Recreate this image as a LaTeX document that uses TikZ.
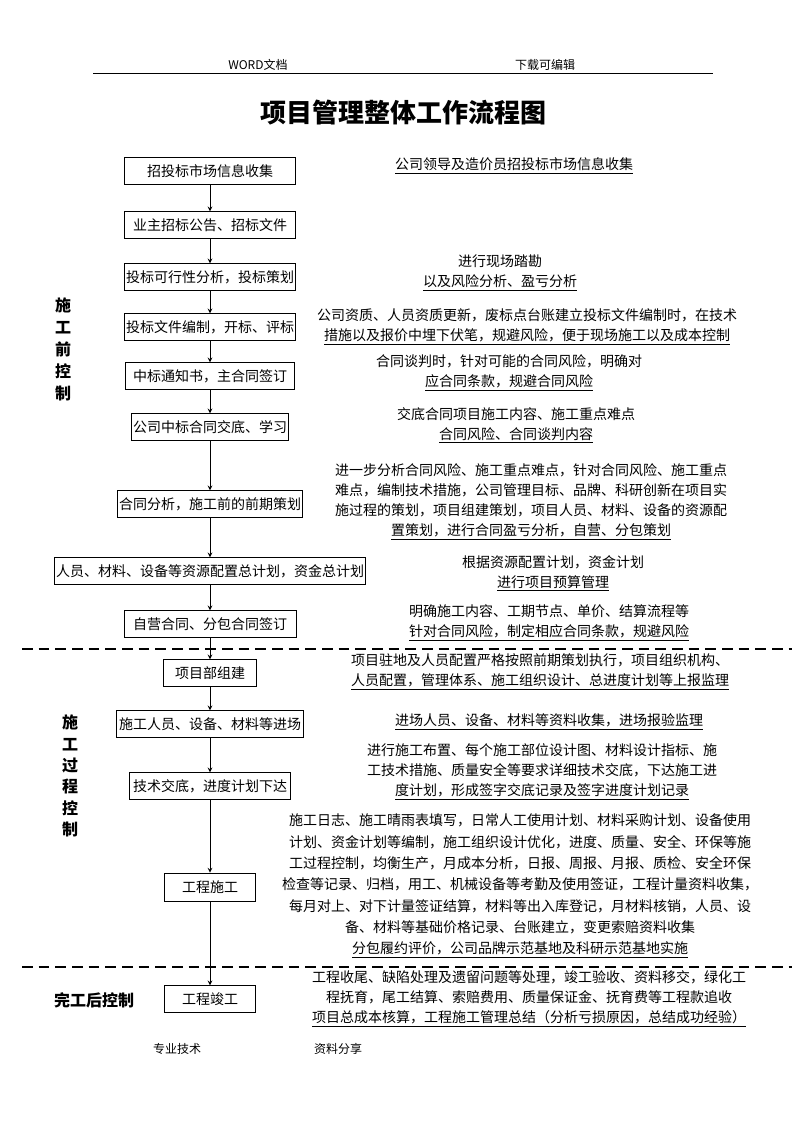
\documentclass[tikz,border=0pt]{standalone}
\usepackage{fontspec}
\newfontfamily\cjk{Noto Sans CJK SC}
\begin{document}
\begin{tikzpicture}[x=0.75pt,y=-0.75pt,>=stealth,
  every node/.style={font=\cjk\fontsize{10.5}{15}\selectfont},
  box/.style={draw,line width=0.6pt,minimum height=20pt,inner xsep=1pt,inner ysep=0pt},
  note/.style={align=center},
  side/.style={font=\cjk\bfseries\fontsize{12}{16.5}\selectfont,align=center},
  small/.style={font=\cjk\fontsize{9}{11}\selectfont},
  cut/.style={line width=1.4pt,dash pattern=on 8pt off 4.5pt}]
 \useasboundingbox (0,0) rectangle (794,1123);
 \node[small] (head1) at (258,65) {WORD文档};
 \node[small] (head2) at (545,65) {下载可编辑};
 \draw[line width=0.6pt] (93,73) -- (713,73);
 \node[font=\cjk\bfseries\fontsize{19.5}{22}\selectfont] (title) at (403,113) {项目管理整体工作流程图};
 % flow column
 \node[box,minimum width=128pt] (b1) at (210,171) {招投标市场信息收集};
 \node[box,minimum width=128pt] (b2) at (210,225) {业主招标公告、招标文件};
 \node[box,minimum width=127pt] (b3) at (210,277) {投标可行性分析，投标策划};
 \node[box,minimum width=127pt] (b4) at (210,327) {投标文件编制，开标、评标};
 \node[box,minimum width=127pt] (b5) at (210,376) {中标通知书，主合同签订};
 \node[box,minimum width=114pt] (b6) at (210,427) {公司中标合同交底、学习};
 \node[box,minimum width=137pt] (b7) at (210,504) {合同分析，施工前的前期策划};
 \node[box,minimum width=229pt] (b8) at (210,571) {人员、材料、设备等资源配置总计划，资金总计划};
 \node[box,minimum width=129pt] (b9) at (210,624) {自营合同、分包合同签订};
 \node[box,minimum width=70pt] (b10) at (210,673) {项目部组建};
 \node[box,minimum width=140pt] (b11) at (210,724) {施工人员、设备、材料等进场};
 \node[box,minimum width=121pt] (b12) at (210,786) {技术交底，进度计划下达};
 \node[box,minimum width=68pt,minimum height=21pt] (b13) at (210,887) {工程施工};
 \node[box,minimum width=68pt] (b14) at (210,999) {工程竣工};
 \foreach \a/\b in {b1/b2,b2/b3,b3/b4,b4/b5,b5/b6,b6/b7,b7/b8,b8/b9,b9/b10,b10/b11,b11/b12,b12/b13,b13/b14}
  \draw[line width=0.6pt,->] (\a) -- (\b);
 % phase lines and labels
 \draw[cut] (22,649) -- (792,649);
 \draw[cut] (22,967) -- (792,967);
 \node[side] (pre) at (63,349) {施\\工\\前\\控\\制};
 \node[side,font=\cjk\bfseries\fontsize{12}{16}\selectfont] (mid) at (70,776) {施\\工\\过\\程\\控\\制};
 \node[side] (post) at (94,1000) {完工后控制};
 % notes
 \node[note] (t1) at (514,166) {\underline{公司领导及造价员招投标市场信息收集}};
 \node[note] (t2) at (500,273) {进行现场踏勘\\\underline{以及风险分析、盈亏分析}};
 \node[note] (t3) at (527,327) {公司资质、人员资质更新，废标点台账建立投标文件编制时，在技术\\\underline{措施以及报价中埋下伏笔，规避风险，便于现场施工以及成本控制}};
 \node[note] (t4) at (509,373) {合同谈判时，针对可能的合同风险，明确对\\\underline{应合同条款，规避合同风险}};
 \node[note] (t5) at (516,425) {交底合同项目施工内容、施工重点难点\\\underline{合同风险、合同谈判内容}};
 \node[note] (t6) at (531,502) {进一步分析合同风险、施工重点难点，针对合同风险、施工重点\\难点，编制技术措施，公司管理目标、品牌、科研创新在项目实\\施过程的策划，项目组建策划，项目人员、材料、设备的资源配\\\underline{置策划，进行合同盈亏分析，自营、分包策划}};
 \node[note] (t7) at (553,573) {根据资源配置计划，资金计划\\\underline{进行项目预算管理}};
 \node[note] (t8) at (549,623) {明确施工内容、工期节点、单价、结算流程等\\\underline{针对合同风险，制定相应合同条款，规避风险}};
 \node[note] (t9) at (540,672) {项目驻地及人员配置严格按照前期策划执行，项目组织机构、\\\underline{人员配置，管理体系、施工组织设计、总进度计划等上报监理}};
 \node[note] (t10) at (549,722) {\underline{进场人员、设备、材料等资料收集，进场报验监理}};
 \node[note] (t11) at (542,772) {进行施工布置、每个施工部位设计图、材料设计指标、施\\工技术措施、质量安全等要求详细技术交底，下达施工进\\\underline{度计划，形成签字交底记录及签字进度计划记录}};
 \node[note,font=\cjk\fontsize{10.5}{16}\selectfont] (t12) at (520,886) {施工日志、施工晴雨表填写，日常人工使用计划、材料采购计划、设备使用\\计划、资金计划等编制，施工组织设计优化，进度、质量、安全、环保等施\\工过程控制，均衡生产，月成本分析，日报、周报、月报、质检、安全环保\\检查等记录、归档，用工、机械设备等考勤及使用签证，工程计量资料收集，\\每月对上、对下计量签证结算，材料等出入库登记，月材料核销，人员、设\\备、材料等基础价格记录、台账建立，变更索赔资料收集\\\underline{分包履约评价，公司品牌示范基地及科研示范基地实施}};
 \node[note] (t13) at (529,999) {工程收尾、缺陷处理及遗留问题等处理，竣工验收、资料移交，绿化工\\程抚育，尾工结算、索赔费用、质量保证金、抚育费等工程款追收\\\underline{项目总成本核算，工程施工管理总结（分析亏损原因，总结成功经验）}};
 \node[small] (foot1) at (177,1049) {专业技术};
 \node[small] (foot2) at (338,1049) {资料分享};
\end{tikzpicture}
\end{document}
